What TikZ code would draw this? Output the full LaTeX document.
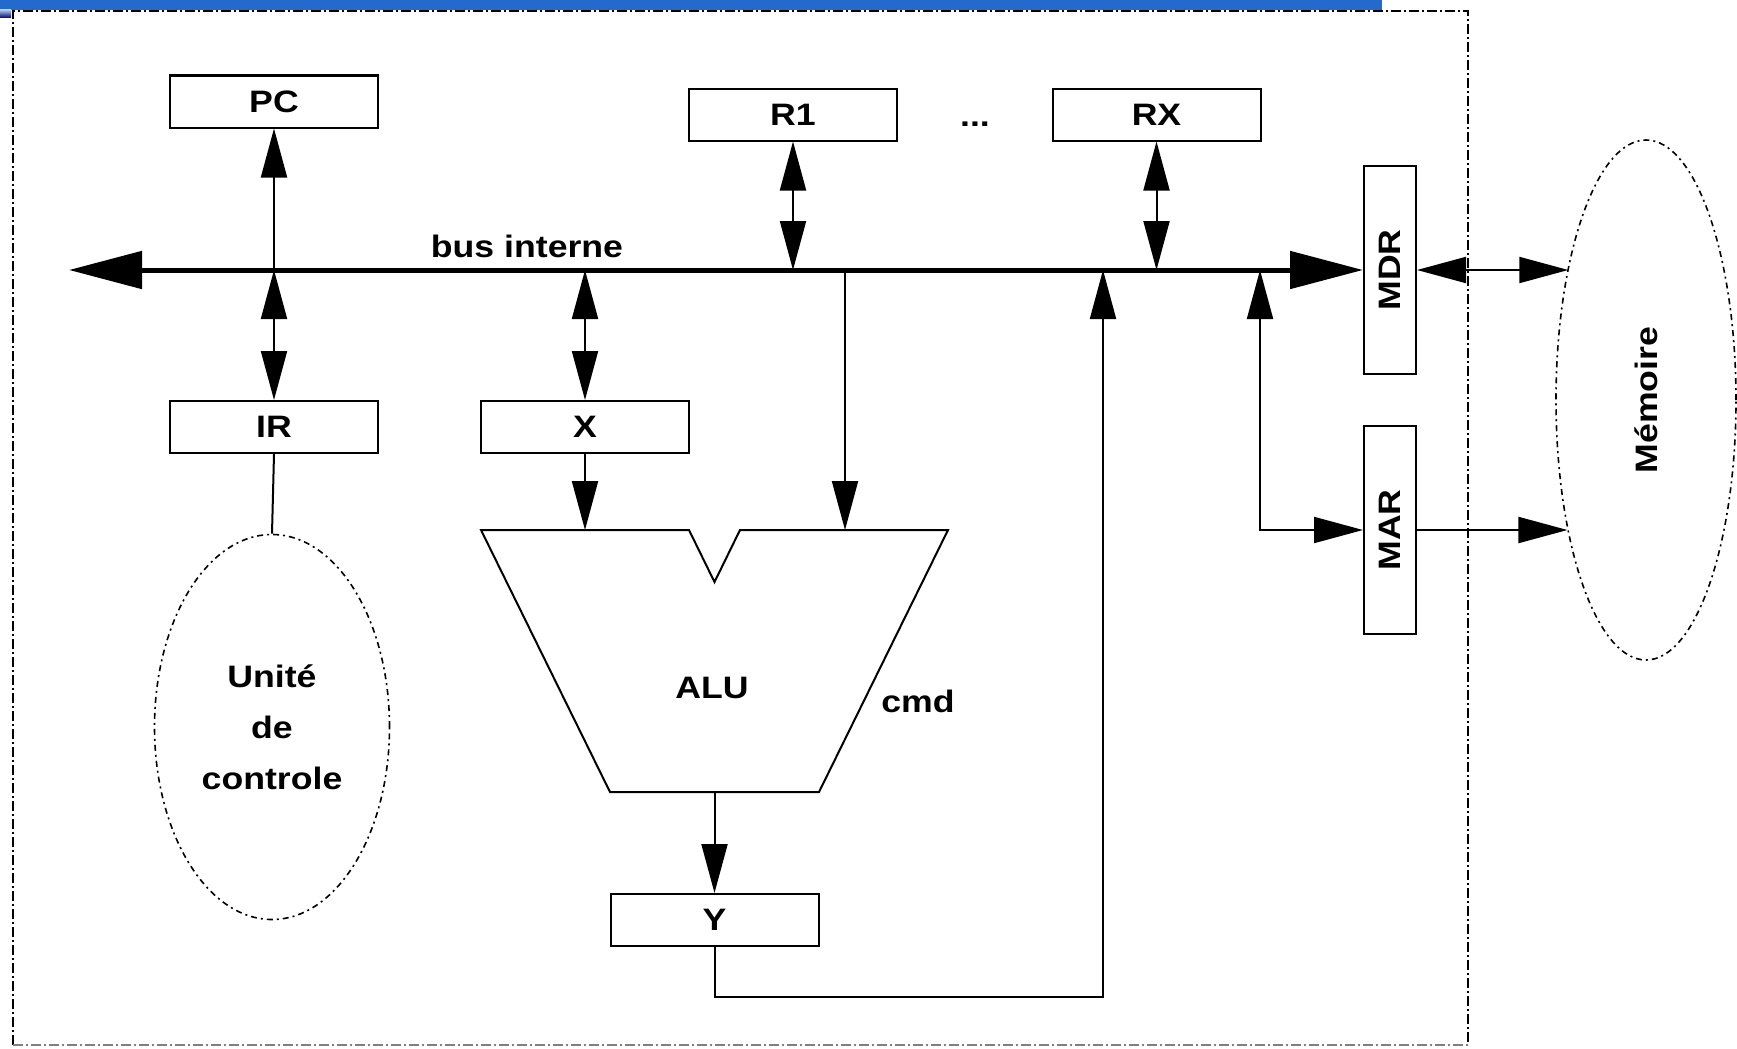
\documentclass[tikz,border=0pt]{standalone}
\usepackage{fontspec}
\setmainfont{Liberation Sans}[FakeStretch=1.15]
\usetikzlibrary{arrows.meta,shapes.geometric}
\definecolor{barblue}{RGB}{36,106,204}
\newcommand{\diaglabel}{\fontsize{31}{51}\selectfont\bfseries}
\tikzset{
  wire/.style={line width=2pt},
  one/.style={wire, -{Triangle[length=49pt,width=26pt]}},
  two/.style={wire, {Triangle[length=49pt,width=26pt]}-{Triangle[length=49pt,width=26pt]}},
  busline/.style={line width=5pt, {Triangle[length=73pt,width=37pt]}-{Triangle[length=73pt,width=37pt]}},
  reg/.style={draw, line width=2pt, minimum width=208pt, minimum height=52pt, inner sep=0pt, font=\diaglabel},
  vreg/.style={reg, minimum width=52pt, minimum height=208pt},
  lab/.style={inner sep=0pt, font=\diaglabel},
  ell/.style={ellipse, draw, line width=1.6pt, dash pattern=on 6pt off 4pt on 2pt off 4pt, inner sep=2pt, font=\diaglabel, align=center},
  frame/.style={line width=2pt, dash pattern=on 10pt off 3pt on 2pt off 3pt}
}
\begin{document}
\begin{tikzpicture}[x=1pt,y=-1pt]
\useasboundingbox (0,0) rectangle (1737,1049);
% top bar
\fill[barblue] (0,0) rectangle (1382,10);
\shade[top color=barblue!40, bottom color=blue!40!black] (0,10) rectangle (11,18);
% frame
\draw[frame] (13,1045) -- (13,11) -- (1468,11) -- (1468,1045);
\draw[frame, gray] (13,1045) -- (1468,1045);

% registers
\node[reg] (PC) at (274,101.5) {PC};
\node[reg] (R1) at (793,114.5) {R1};
\node[reg] (RX) at (1156.5,114.5) {RX};
\node[lab, anchor=base] (dots) at (975,126) {...};
\node[reg] (IR) at (274,427) {IR};
\node[reg] (X) at (585,427) {X};
\node[reg] (Y) at (714.5,920) {Y};
\node[vreg] (MDR) at (1390,270) {\rotatebox{90}{MDR}};
\node[vreg] (MAR) at (1390,530) {\rotatebox{90}{MAR}};

% ellipses
\node[ell, minimum width=235pt, minimum height=385pt] (UC) at (272,727) {Unité\\de\\controle};
\node[ell, minimum width=180pt, minimum height=520pt] (MEM) at (1646,400) {\rotatebox{90}{Mémoire}};

% ALU
\draw[wire] (481,530) -- (689,530) -- (714.5,582) -- (740,530) -- (948,530) -- (819,792) -- (610,792) -- cycle;
\coordinate (aluL) at (585,530);
\coordinate (aluR) at (845,530);
\coordinate (aluB) at (714.5,792);
\node[lab] (alu) at (712,688) {ALU};
\node[lab] (cmd) at (918,701) {cmd};

% bus
\coordinate (busL) at (69,270);
\node[lab, anchor=base] (busname) at (527,257) {bus interne};
\draw[busline] (busL) -- (MDR.west);

% connectors
\draw[one] (PC.south |- busL) -- (PC.south);
\draw[two] (IR.north |- busL) -- (IR.north);
\draw[two] (X.north |- busL) -- (X.north);
\draw[two] (R1.south) -- (R1.south |- busL);
\draw[two] (RX.south) -- (RX.south |- busL);
\draw[one] (aluR |- busL) -- (aluR);
\draw[one] (X.south) -- (aluL);
\draw[one] (aluB) -- (Y.north);
\coordinate (yturn) at (1103,997);
\draw[one] (Y.south) |- (yturn) -- (yturn |- busL);
\coordinate (mtap) at (1260,270);
\draw[two] (mtap) |- (MAR.west);
\draw[two] (MDR.east) -- (MEM.120.9 |- MDR.east);
\draw[one] (MAR.east) -- (MEM.239.1 |- MAR.east);
\draw[wire] (IR.south) -- (UC.north);
\end{tikzpicture}
\end{document}
